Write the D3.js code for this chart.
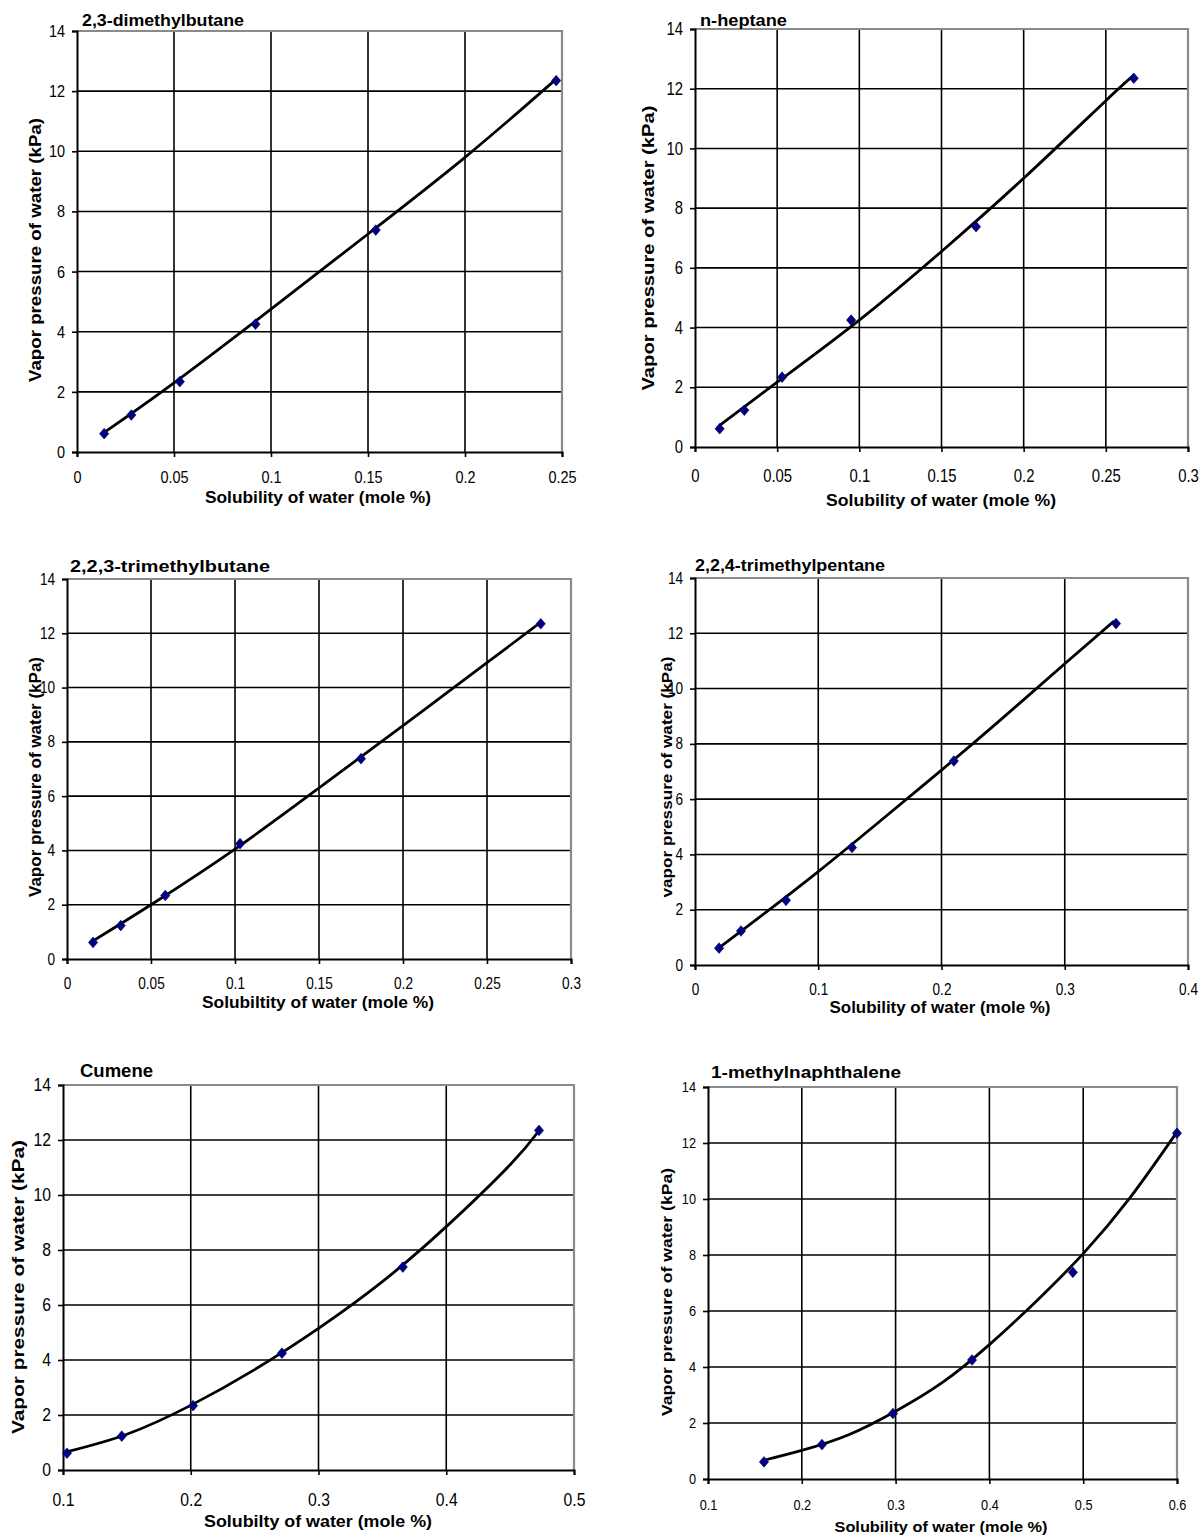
<!DOCTYPE html>
<html>
<head>
<meta charset="utf-8">
<script src="https://cdn.jsdelivr.net/npm/d3@7"></script>
<style>
  html, body { margin: 0; padding: 0; background: #fff; }
  svg { display: block; }
  text { font-family: "Liberation Sans", Arial, sans-serif; fill: #000; }
</style>
</head>
<body>
<div id="chart"></div>
<script>
// ---------------- DATA ----------------
const titles = ["2,3-dimethylbutane", "n-heptane", "2,2,3-trimethylbutane",
                "2,2,4-trimethylpentane", "Cumene", "1-methylnaphthalene"];
const xAxisTitles = ["Solubility of water (mole %)", "Solubility of water (mole %)",
                     "Solubiltity of water (mole %)", "Solubility of water (mole %)",
                     "Solubilty of water (mole %)", "Solubility of water (mole %)"];
const yAxisTitles = ["Vapor pressure of water (kPa)", "Vapor pressure of water (kPa)",
                     "Vapor pressure of water (kPa)", "vapor pressure of water (kPa)",
                     "Vapor pressure of water (kPa)", "Vapor pressure of water (kPa)"];

const yTicks = [0, 2, 4, 6, 8, 10, 12, 14];
const xTicksDimethylbutane = [0, 0.05, 0.1, 0.15, 0.2, 0.25];
const xTicksHeptane = [0, 0.05, 0.1, 0.15, 0.2, 0.25, 0.3];
const xTicksTrimethylbutane = [0, 0.05, 0.1, 0.15, 0.2, 0.25, 0.3];
const xTicksTrimethylpentane = [0, 0.1, 0.2, 0.3, 0.4];
const xTicksCumene = [0.1, 0.2, 0.3, 0.4, 0.5];
const xTicksMethylnaphthalene = [0.1, 0.2, 0.3, 0.4, 0.5, 0.6];

// measured vapour pressure of water (kPa), shared by every panel
const vaporPressure = [0.61, 1.23, 2.34, 4.25, 7.38, 12.35];

// measured solubility of water (mole %)
const solDimethylbutane = [0.014, 0.028, 0.053, 0.092, 0.154, 0.247];
const solHeptane = [0.015, 0.030, 0.053, 0.095, 0.171, 0.267];
const solTrimethylbutane = [0.0155, 0.032, 0.0585, 0.103, 0.175, 0.282];
const solTrimethylpentane = [0.0195, 0.0373, 0.0738, 0.1274, 0.210, 0.3416];
const solCumene = [0.1031, 0.146, 0.2018, 0.2714, 0.366, 0.4726];
const solMethylnaphthalene = [0.1597, 0.2215, 0.2972, 0.3815, 0.489, 0.600];

// fitted trend curves
const fitDimethylbutaneX = [0.014, 0.05, 0.1, 0.15, 0.2, 0.247];
const fitDimethylbutaneY = [0.65, 2.3, 4.75, 7.25, 9.8, 12.4];
const fitHeptaneX = [0.0152, 0.05, 0.1, 0.15, 0.2, 0.25, 0.2664];
const fitHeptaneY = [0.73, 2.17, 4.25, 6.55, 9.0, 11.6, 12.42];
const fitTrimethylbutaneX = [0.015, 0.05, 0.1, 0.15, 0.2, 0.25, 0.2815];
const fitTrimethylbutaneY = [0.65, 2.0, 4.05, 6.3, 8.6, 10.92, 12.38];
const fitTrimethylpentaneX = [0.02, 0.05, 0.1, 0.15, 0.2, 0.25, 0.3, 0.3395];
const fitTrimethylpentaneY = [0.64, 1.65, 3.38, 5.2, 7.05, 8.95, 10.9, 12.42];
const fitCumeneX = [0.1036, 0.15, 0.2, 0.25, 0.3, 0.35, 0.4, 0.45, 0.472];
const fitCumeneY = [0.67, 1.3, 2.35, 3.65, 5.15, 6.85, 8.85, 11.1, 12.3];
const fitMethylnaphthaleneX = [0.1597, 0.2, 0.25, 0.3, 0.35, 0.4, 0.45, 0.5, 0.55, 0.598];
const fitMethylnaphthaleneY = [0.67, 1.02, 1.58, 2.42, 3.45, 4.8, 6.35, 8.05, 10.05, 12.3];

const xTickSets = [xTicksDimethylbutane, xTicksHeptane, xTicksTrimethylbutane,
                   xTicksTrimethylpentane, xTicksCumene, xTicksMethylnaphthalene];
const solubilitySets = [solDimethylbutane, solHeptane, solTrimethylbutane,
                        solTrimethylpentane, solCumene, solMethylnaphthalene];
const fitXSets = [fitDimethylbutaneX, fitHeptaneX, fitTrimethylbutaneX,
                  fitTrimethylpentaneX, fitCumeneX, fitMethylnaphthaleneX];
const fitYSets = [fitDimethylbutaneY, fitHeptaneY, fitTrimethylbutaneY,
                  fitTrimethylpentaneY, fitCumeneY, fitMethylnaphthaleneY];

// ---------------- LAYOUT (positions / sizes / styles) ----------------
const layout = [
  { box: [77, 562, 31, 452],   tick: 17, xOff: 25,
    title: [82, 20, 16, 162],  xl: [318, 497, 16, 226],  yl: [35, 250, 16.5, 264] },
  { box: [695, 1188, 29, 447], tick: 17.5, xOff: 29,
    title: [700, 20, 17, 87],  xl: [941, 500, 17, 230],  yl: [648, 248, 17, 285] },
  { box: [67, 571, 579, 959],  tick: 16, xOff: 25,
    title: [70, 566, 17, 200], xl: [318, 1002, 16, 232], yl: [35, 777, 16, 240] },
  { box: [695, 1188, 578, 965], tick: 16, xOff: 25,
    title: [695, 565, 16, 190], xl: [940, 1007, 16, 221], yl: [666, 777, 15, 241] },
  { box: [63, 574, 1085, 1470], tick: 18.5, xOff: 30,
    title: [80, 1071, 18, 73], xl: [318, 1521, 17, 228], yl: [18, 1287, 17, 294] },
  { box: [708, 1177, 1087, 1479], tick: 15, xOff: 26,
    title: [711, 1072, 17, 190], xl: [941, 1526, 15, 213], yl: [667, 1292, 14, 248] }
];
const squeeze = 0.85;   // reference digits are horizontally condensed

const W = 1201, H = 1536;
const svg = d3.select("#chart").append("svg")
  .attr("width", W).attr("height", H).attr("viewBox", `0 0 ${W} ${H}`);

layout.forEach((L, i) => {
  const [x0, x1, y0, y1] = L.box;
  const ticks = xTickSets[i];
  const x = d3.scaleLinear().domain([ticks[0], ticks[ticks.length - 1]]).range([x0, x1]);
  const y = d3.scaleLinear().domain([yTicks[0], yTicks[yTicks.length - 1]]).range([y1, y0]);
  const g = svg.append("g");

  // gridlines
  g.append("g").selectAll("line").data(yTicks.slice(1, -1)).join("line")
    .attr("x1", x0).attr("x2", x1).attr("y1", d => y(d)).attr("y2", d => y(d))
    .attr("stroke", "#000").attr("stroke-width", 1.6);
  g.append("g").selectAll("line").data(ticks.slice(1, -1)).join("line")
    .attr("y1", y0).attr("y2", y1).attr("x1", d => x(d)).attr("x2", d => x(d))
    .attr("stroke", "#000").attr("stroke-width", 1.6);

  // grey top / right frame
  g.append("path")
    .attr("d", `M${x0},${y0}H${x1}V${y1}`)
    .attr("fill", "none").attr("stroke", "#8a8a8a").attr("stroke-width", 2.2);

  // axes
  const xAxis = d3.axisBottom(x).tickValues(ticks).tickSize(5).tickFormat(d => String(d));
  const gx = g.append("g").attr("transform", `translate(0,${y1})`).call(xAxis);
  gx.select(".domain").attr("stroke", "#000").attr("stroke-width", 2);
  gx.selectAll(".tick line").attr("stroke", "#000").attr("stroke-width", 1.6);
  gx.selectAll(".tick text").attr("font-size", L.tick).attr("fill", "#000")
    .attr("font-family", "Liberation Sans, Arial, sans-serif")
    .attr("dy", null).attr("y", L.xOff).attr("dominant-baseline", "central")
    .attr("transform", `scale(${squeeze},1)`);

  const yAxis = d3.axisLeft(y).tickValues(yTicks).tickSize(5);
  const gy = g.append("g").attr("transform", `translate(${x0},0)`).call(yAxis);
  gy.select(".domain").attr("stroke", "#000").attr("stroke-width", 2);
  gy.selectAll(".tick line").attr("stroke", "#000").attr("stroke-width", 1.6);
  gy.selectAll(".tick text").attr("font-size", L.tick).attr("fill", "#000")
    .attr("font-family", "Liberation Sans, Arial, sans-serif")
    .attr("x", -12 / squeeze).attr("transform", `scale(${squeeze},1)`);

  // fitted curve
  const fit = fitXSets[i].map((v, k) => [v, fitYSets[i][k]]);
  g.append("path").datum(fit)
    .attr("d", d3.line().x(d => x(d[0])).y(d => y(d[1])).curve(d3.curveNatural))
    .attr("fill", "none").attr("stroke", "#000").attr("stroke-width", 2.8)
    .attr("stroke-linejoin", "round").attr("stroke-linecap", "round");

  // measured points
  const pts = solubilitySets[i].map((v, k) => [v, vaporPressure[k]]);
  g.append("g").selectAll("path").data(pts).join("path")
    .attr("d", d3.symbol().type(d3.symbolDiamond2).size(60))
    .attr("transform", d => `translate(${x(d[0])},${y(d[1])}) scale(0.95,1.1)`)
    .attr("fill", "#000080").attr("stroke", "#00006a").attr("stroke-width", 0.6);

  // title
  const [tx, ty, ts, tl] = L.title;
  g.append("text").attr("x", tx).attr("y", ty).attr("dominant-baseline", "central")
    .attr("font-size", ts).attr("font-weight", "bold")
    .attr("textLength", tl).attr("lengthAdjust", "spacingAndGlyphs")
    .text(titles[i]);

  // x axis title
  const [xx, xy, xs, xlen] = L.xl;
  g.append("text").attr("x", xx).attr("y", xy).attr("text-anchor", "middle")
    .attr("dominant-baseline", "central")
    .attr("font-size", xs).attr("font-weight", "bold")
    .attr("textLength", xlen).attr("lengthAdjust", "spacingAndGlyphs")
    .text(xAxisTitles[i]);

  // y axis title
  const [yx, yy, ys, ylen] = L.yl;
  g.append("text").attr("transform", `translate(${yx},${yy}) rotate(-90)`)
    .attr("text-anchor", "middle").attr("dominant-baseline", "central")
    .attr("font-size", ys).attr("font-weight", "bold")
    .attr("textLength", ylen).attr("lengthAdjust", "spacingAndGlyphs")
    .text(yAxisTitles[i]);
});
</script>
</body>
</html>
